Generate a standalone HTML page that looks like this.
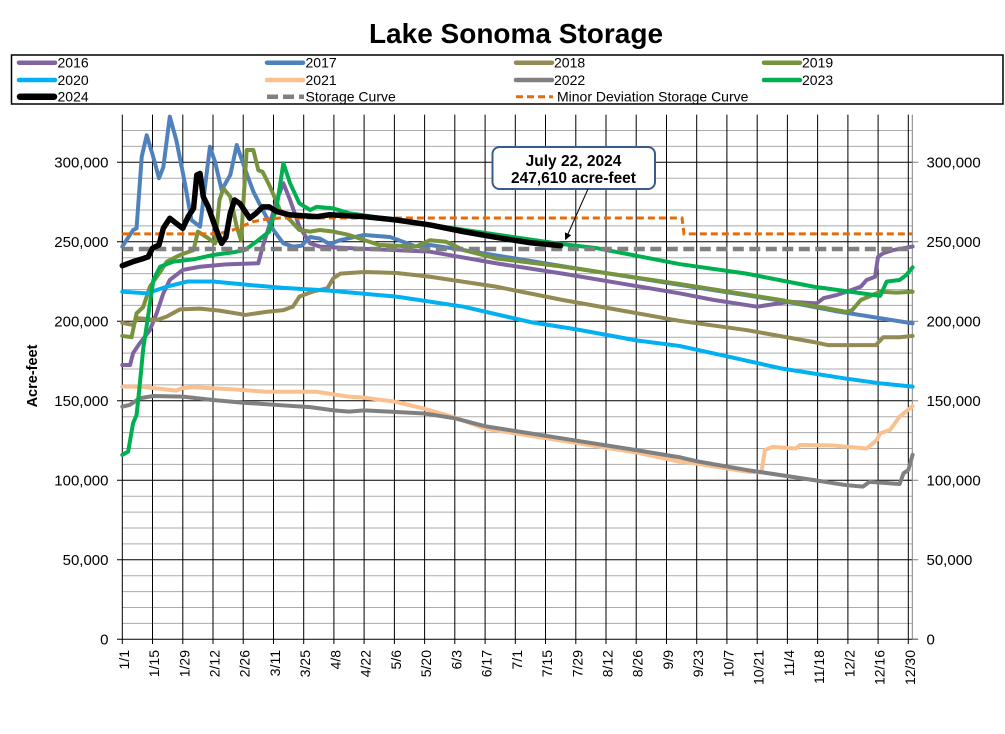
<!DOCTYPE html>
<html><head><meta charset="utf-8"><style>html,body{margin:0;padding:0;background:#fff}svg{display:block}</style></head>
<body>
<svg width="1005" height="734" xmlns="http://www.w3.org/2000/svg" font-family="'Liberation Sans', Arial, sans-serif">
<defs>
<marker id="ah" viewBox="0 0 10 10" refX="9" refY="5" markerWidth="7" markerHeight="7" orient="auto" markerUnits="userSpaceOnUse"><path d="M0,0 L10,5 L0,10 z" fill="#000"/></marker>
</defs>
<rect width="1005" height="734" fill="#fff"/>
<text x="516" y="43" font-size="28" font-weight="bold" text-anchor="middle">Lake Sonoma Storage</text>

<!-- Legend -->
<rect x="11.5" y="55" width="991.5" height="49" fill="#fff" stroke="#000" stroke-width="1.5"/>
<g stroke-linecap="round" fill="none">
<line x1="19" y1="62.7" x2="55" y2="62.7" stroke="#8064A2" stroke-width="4.5"/>
<line x1="267" y1="62.7" x2="303" y2="62.7" stroke="#4F81BD" stroke-width="4.5"/>
<line x1="516" y1="62.7" x2="552" y2="62.7" stroke="#948A54" stroke-width="4.5"/>
<line x1="764" y1="62.7" x2="800" y2="62.7" stroke="#77933C" stroke-width="4.5"/>
<line x1="19" y1="80" x2="55" y2="80" stroke="#00B0F0" stroke-width="4.5"/>
<line x1="267" y1="80" x2="303" y2="80" stroke="#FAC090" stroke-width="4.5"/>
<line x1="516" y1="80" x2="552" y2="80" stroke="#808080" stroke-width="4.5"/>
<line x1="764" y1="80" x2="800" y2="80" stroke="#00B050" stroke-width="4.5"/>
<line x1="20" y1="96.7" x2="54" y2="96.7" stroke="#000" stroke-width="6.5"/>
</g>
<line x1="267" y1="96.7" x2="304" y2="96.7" stroke="#808080" stroke-width="4.5" stroke-dasharray="11 5"/>
<line x1="516" y1="96.7" x2="553" y2="96.7" stroke="#E46C0A" stroke-width="3" stroke-dasharray="7 4"/>
<g font-size="14" fill="#000">
<text x="57.5" y="67.7">2016</text><text x="305.5" y="67.7">2017</text><text x="554" y="67.7">2018</text><text x="802" y="67.7">2019</text>
<text x="57.5" y="85">2020</text><text x="305.5" y="85">2021</text><text x="554" y="85">2022</text><text x="802" y="85">2023</text>
<text x="57.5" y="101.7">2024</text><text x="305.5" y="101.7">Storage Curve</text><text x="557" y="101.7">Minor Deviation Storage Curve</text>
</g>

<!-- minor grid -->
<path stroke="#ABABAB" stroke-width="1" fill="none" d="M122.3 623.4H912.3M122.3 607.5H912.3M122.3 591.6H912.3M122.3 575.7H912.3M122.3 543.9H912.3M122.3 528H912.3M122.3 512.1H912.3M122.3 496.2H912.3M122.3 464.4H912.3M122.3 448.5H912.3M122.3 432.6H912.3M122.3 416.7H912.3M122.3 384.9H912.3M122.3 369H912.3M122.3 353.1H912.3M122.3 337.2H912.3M122.3 305.4H912.3M122.3 289.5H912.3M122.3 273.6H912.3M122.3 257.7H912.3M122.3 225.9H912.3M122.3 210H912.3M122.3 194.1H912.3M122.3 178.2H912.3M122.3 146.4H912.3M122.3 130.5H912.3"/>
<!-- major grid -->
<path stroke="#000" stroke-width="1" fill="none" d="M117 559.8H912.3M117 480.3H912.3M117 400.8H912.3M117 321.3H912.3M117 241.8H912.3M117 162.3H912.3M117 639.3H918"/>
<!-- vertical grid -->
<path stroke="#000" stroke-width="1" fill="none" d="M122.3 114.6V644M152.5 114.6V644M182.8 114.6V644M213 114.6V644M243.2 114.6V644M273.5 114.6V644M303.7 114.6V644M333.9 114.6V644M364.1 114.6V644M394.4 114.6V644M424.6 114.6V644M454.8 114.6V644M485.1 114.6V644M515.3 114.6V644M545.5 114.6V644M575.8 114.6V644M606 114.6V644M636.2 114.6V644M666.5 114.6V644M696.7 114.6V644M726.9 114.6V644M757.2 114.6V644M787.4 114.6V644M817.6 114.6V644M847.9 114.6V644M878.1 114.6V644M908.3 114.6V644"/>
<!-- right axis -->
<path stroke="#808080" stroke-width="1" fill="none" d="M912.3 114.6V639.3M912.3 559.8H918.3M912.3 480.3H918.3M912.3 400.8H918.3M912.3 321.3H918.3M912.3 241.8H918.3M912.3 162.3H918.3M912.3 639.3H918.3"/>

<!-- y labels -->
<g font-size="15" fill="#000" text-anchor="end">
<text x="108.5" y="644.6">0</text><text x="108.5" y="565.1">50,000</text><text x="108.5" y="485.6">100,000</text><text x="108.5" y="406.1">150,000</text><text x="108.5" y="326.6">200,000</text><text x="108.5" y="247.1">250,000</text><text x="108.5" y="167.6">300,000</text>
</g>
<g font-size="15" fill="#000">
<text x="926.5" y="644.6">0</text><text x="926.5" y="565.1">50,000</text><text x="926.5" y="485.6">100,000</text><text x="926.5" y="406.1">150,000</text><text x="926.5" y="326.6">200,000</text><text x="926.5" y="247.1">250,000</text><text x="926.5" y="167.6">300,000</text>
</g>
<text transform="translate(37,376) rotate(-90)" font-size="14.5" font-weight="bold" text-anchor="middle">Acre-feet</text>

<!-- x labels -->
<g font-size="14" fill="#000" text-anchor="end">
<text transform="translate(128.8,650) rotate(-90)">1/1</text>
<text transform="translate(159,650) rotate(-90)">1/15</text>
<text transform="translate(189.3,650) rotate(-90)">1/29</text>
<text transform="translate(219.5,650) rotate(-90)">2/12</text>
<text transform="translate(249.7,650) rotate(-90)">2/26</text>
<text transform="translate(280,650) rotate(-90)">3/11</text>
<text transform="translate(310.2,650) rotate(-90)">3/25</text>
<text transform="translate(340.4,650) rotate(-90)">4/8</text>
<text transform="translate(370.6,650) rotate(-90)">4/22</text>
<text transform="translate(400.9,650) rotate(-90)">5/6</text>
<text transform="translate(431.1,650) rotate(-90)">5/20</text>
<text transform="translate(461.3,650) rotate(-90)">6/3</text>
<text transform="translate(491.6,650) rotate(-90)">6/17</text>
<text transform="translate(521.8,650) rotate(-90)">7/1</text>
<text transform="translate(552,650) rotate(-90)">7/15</text>
<text transform="translate(582.3,650) rotate(-90)">7/29</text>
<text transform="translate(612.5,650) rotate(-90)">8/12</text>
<text transform="translate(642.7,650) rotate(-90)">8/26</text>
<text transform="translate(673,650) rotate(-90)">9/9</text>
<text transform="translate(703.2,650) rotate(-90)">9/23</text>
<text transform="translate(733.4,650) rotate(-90)">10/7</text>
<text transform="translate(763.7,650) rotate(-90)">10/21</text>
<text transform="translate(793.9,650) rotate(-90)">11/4</text>
<text transform="translate(824.1,650) rotate(-90)">11/18</text>
<text transform="translate(854.4,650) rotate(-90)">12/2</text>
<text transform="translate(884.6,650) rotate(-90)">12/16</text>
<text transform="translate(914.8,650) rotate(-90)">12/30</text>
</g>

<!-- series in data coords: x=day, y=thousand acre-feet -->
<g transform="matrix(2.1593 0 0 -1.59 122.3 639.3)" fill="none" stroke-linejoin="round" stroke-linecap="round">
<polyline vector-effect="non-scaling-stroke" stroke="#8064A2" stroke-width="4" points="0,172.5 3.6,172.5 5,180 8,186 9.7,189 12.8,194.5 15.9,205 19,217.6 22,226 28,232.3 36,234.3 48,235.8 63,236.5 65,247 68.4,261.6 71.5,276.3 74.6,286.8 77.7,276.3 82,259.5 87,249 91.5,247 105,246 142.5,243.8 173,236.5 204,230 258,217.6 274,213.4 294,209.2 298,210 309,212.3 321.6,211.3 324.7,214.5 331,216.6 335.5,218.6 342,221.8 344.7,226 348.6,228 350,240.6 352.4,242.8 357,244.8 366,247"/>
<polyline vector-effect="non-scaling-stroke" stroke="#4F81BD" stroke-width="4" points="0,247 5,257.4 6.6,258.5 9,303.5 11.3,317 14,305 17,290 19,297 22,328.7 25,314 29,286.8 32,263.7 36,259.5 40.6,309.8 43,300 46,282.6 50,292 53,310.9 57,295.2 60.7,281.5 65,270 70,257.4 74.6,249 79,247 83,247.5 87,253 91.5,252 96,248.6 100.8,251 112,254.3 124,253 136,247 142.5,248 158,244.8 204,234.6 258,223 305,213 330,206.5 366,198.7"/>
<polyline vector-effect="non-scaling-stroke" stroke="#948A54" stroke-width="4" points="0,199 5,197.7 7,202 16,200.8 20.6,203 26.7,207.5 36,208 45,206.7 57,204 67,206 74.6,207 79,209.2 82,215.5 88,218.6 95,220.8 97.7,227 101,230 112,231 127,230.4 142.5,228 173,221.8 204,213.4 258,200.3 289,194.5 320,187 327,185 349,185 352.4,190 360,190 366,190.8"/>
<polyline vector-effect="non-scaling-stroke" stroke="#77933C" stroke-width="4" points="0,190.8 4.3,190 6.6,205 9.7,209 12.8,221.8 17,230 20.6,237.5 26.7,241.7 33,244.8 35,256.4 39,253 43,249 45,276.3 46.8,283.6 50,278.4 53,259.5 55,251 57.6,307.7 60.7,307.7 63,295 65,294 68.4,284.7 73,270 77.7,263.7 82,257.4 87,256.4 91.5,257.4 97.7,256.4 105,254.3 119,248 136,247 142.5,251 150,250 158,244.8 173,239.6 204,234.4 258,223.5 305,213.4 335,206 338,207 342,213.4 351,218.6 358.6,218 366,218.6"/>
<polyline vector-effect="non-scaling-stroke" stroke="#00B0F0" stroke-width="4" points="0,218.6 11,217.6 16,219.7 20.6,221.8 30,225 42,225 59,222.8 74.6,221 96,219.3 127,215.5 158,209.2 189,199.5 210,195 238,188 258,184.5 280,178 305,170.4 335,164 351,161 366,158.9"/>
<polyline vector-effect="non-scaling-stroke" stroke="#FAC090" stroke-width="4" points="0,158.9 8,159 25,156.4 27.5,157.9 33,158.5 51.4,157.2 67,155.7 90,155.7 105,152.6 112,152 126,149.5 140,145 154,139.5 168,132.5 182,129.5 210,123.5 238,117.5 258,111.7 266,110.5 289,105.5 296,105 297.6,119 301,121 312,120 313.8,122.2 328,122 344.7,120 349.4,125.3 351,129.6 355.5,131.6 360,140 366,146.7"/>
<polyline vector-effect="non-scaling-stroke" stroke="#808080" stroke-width="4" points="0,146.3 3.6,147.5 8,151.6 14.4,153 28,152.6 42,150.5 56,148.8 71.5,147.4 87,146 98,144 105,143.2 112,144 126,143 140,142 154,139 168,134 182,131 210,125 238,119 258,114.5 266,112 289,106.5 320,100.2 335,97 343,96 346,99 360,97.7 361.8,104.4 364,106.5 366,116"/>
<polyline vector-effect="non-scaling-stroke" stroke="#00B050" stroke-width="4" points="0,116 2.7,118 5,136 6.6,141 8,159 9.7,183 11,194.5 14.4,226 17.5,234.3 23.6,237.5 33,239 42,241.7 51.4,243.4 57,245 62,250 68,256.4 71.5,272 74.6,299.4 77.7,286.8 82,274.2 87,270 90,272 97.7,271 105,268 204,248.5 219.7,246 258,236 289,230 320,221.8 351,216 354,225 360,226 363,229 366,234"/>
</g>

<!-- dashed curves -->
<line x1="122.3" y1="249" x2="912.3" y2="249" stroke="#808080" stroke-width="4.5" stroke-dasharray="11 5.5"/>
<polyline points="122.3,233.9 218,233.9 233,230 253,221.7 267,219 280,218 682,218 684,233.9 912.3,233.9" fill="none" stroke="#E46C0A" stroke-width="3" stroke-dasharray="7 4"/>

<!-- 2024 -->
<g transform="matrix(2.1593 0 0 -1.59 122.3 639.3)" fill="none" stroke-linejoin="round" stroke-linecap="round">
<polyline vector-effect="non-scaling-stroke" stroke="#000" stroke-width="5.5" points="0,235 5,237.5 10,239.6 12,240.6 14,246 17,248 19,258.5 22,264.8 25,261.6 28,258.5 30.5,265.8 33,271 34.5,292 36,293 37.5,278.4 39.8,272 43,259.5 46,249 48,253 50,268 52,276.3 54.5,274 59,264.8 62,268 65,272 68,272 71.5,269 77.7,266.9 90,265.8 96,267 112,265.8 127,263.7 142.5,260.6 158,256.4 173,252.8 189,249.4 203,247.6"/>
</g>

<!-- annotation -->
<rect x="492.5" y="147" width="162.5" height="42" rx="7" fill="#fff" stroke="#385D8A" stroke-width="2"/>
<text x="573.5" y="166" font-size="15.5" font-weight="bold" text-anchor="middle">July 22, 2024</text>
<text x="573.5" y="183" font-size="15.5" font-weight="bold" text-anchor="middle">247,610 acre-feet</text>
<line x1="588" y1="189" x2="565.5" y2="239.5" stroke="#000" stroke-width="1" marker-end="url(#ah)"/>
</svg>
</body></html>
